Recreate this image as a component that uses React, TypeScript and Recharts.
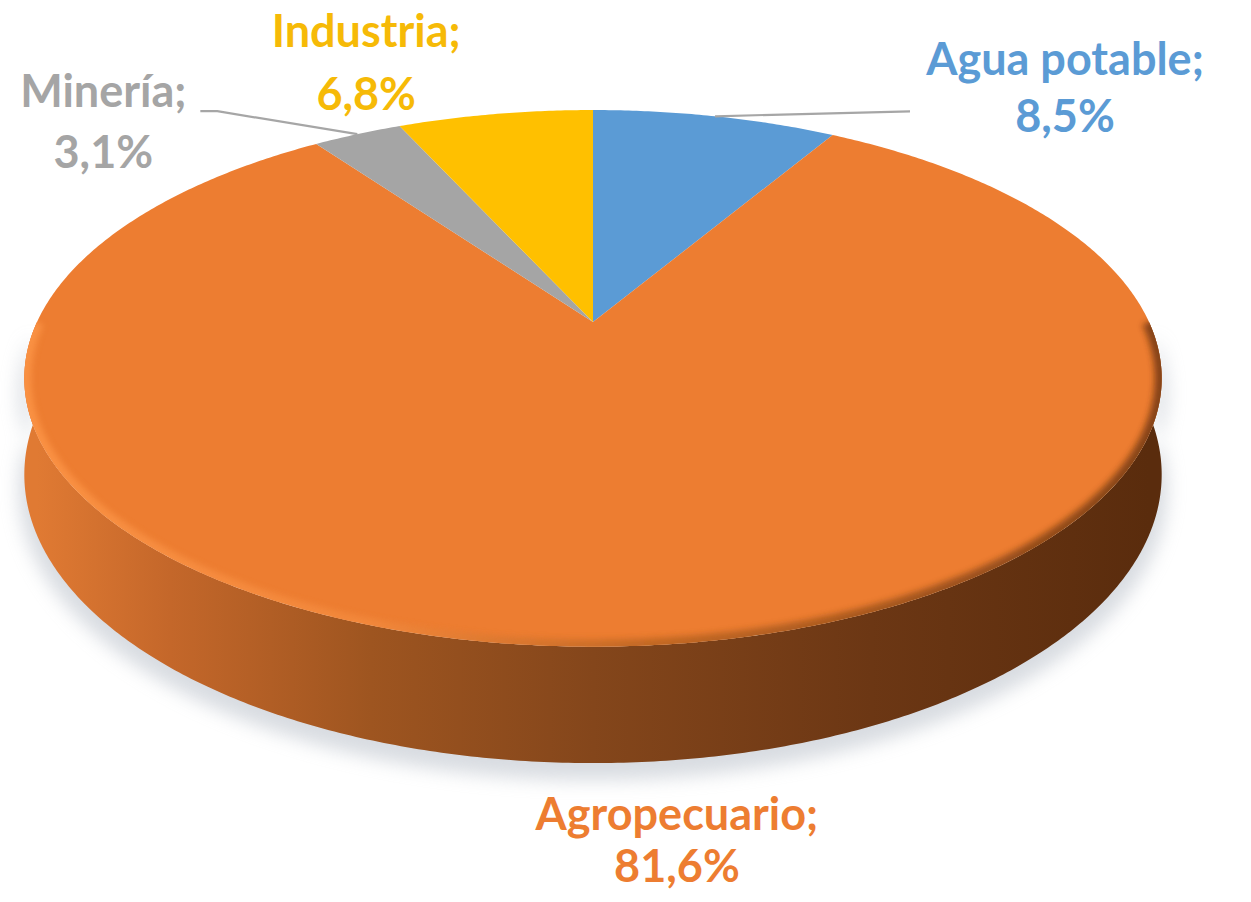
import React from 'react';
import { PieChart, Pie, Cell } from 'recharts';

// ---- data ----
const categories = ['Agua potable', 'Agropecuario', 'Minería', 'Industria'];
const shares = [8.5, 81.6, 3.1, 6.8];
const sliceColors = ['#5B9BD5', '#ED7D31', '#A5A5A5', '#FFC000'];
const labelColors = ['#5B9BD5', '#ED7D31', '#A5A5A5', '#F6BA07'];

const data = categories.map((name, i) => ({ name, value: shares[i] }));

// ---- layout ----
const W = 1251;
const H = 902;
const CX = 593;
const CY = 322;
const R = 556;
const TILT = 0.4613; // vertical squash of the disc
const PERSP = 0.21; // perspective strength
const DEPTH = 92; // thickness of the disc

// label placement relative to the rim point at the slice's mid angle
const labelLayout = [
  { dx: 350, dy: -41, gap: 57, leader: [[195, -5]] },
  { dx: 53, dy: 184, gap: 52, leader: [] },
  { dx: -254, dy: -27, gap: 61, leader: [[-140, -23], [-157, -23]] },
  { dx: -129, dy: -67, gap: 63, leader: [] },
];

function project(cx: number, cy: number, r: number, deg: number, h = 0) {
  const a = (deg * Math.PI) / 180;
  const u = Math.cos(a);
  const v = Math.sin(a);
  const p = 1 / (1 + PERSP * v);
  return [cx + r * u * p, cy - r * TILT * v * p + h * p];
}

function arcPoints(cx: number, cy: number, r: number, a0: number, a1: number, h = 0) {
  const n = Math.max(2, Math.ceil(Math.abs(a1 - a0) / 0.5));
  const pts: number[][] = [];
  for (let i = 0; i <= n; i++) {
    pts.push(project(cx, cy, r, a0 + ((a1 - a0) * i) / n, h));
  }
  return pts;
}

const toPath = (pts: number[][]) =>
  pts.map((p, i) => `${i === 0 ? 'M' : 'L'}${p[0].toFixed(2)},${p[1].toFixed(2)}`).join(' ');

function nearRanges(lo: number, hi: number) {
  const out: number[][] = [];
  for (let k = -2; k <= 2; k++) {
    const a = -180 + 360 * k;
    const b = 0 + 360 * k;
    const s = Math.max(lo, a);
    const e = Math.min(hi, b);
    if (e > s) out.push([s, e]);
  }
  return out;
}

const renderSlice = (props: any) => {
  const { cx, cy, outerRadius, startAngle, endAngle, fill, index } = props;
  const lo = Math.min(startAngle, endAngle);
  const hi = Math.max(startAngle, endAngle);
  const ranges = nearRanges(lo, hi);
  const id = `s${index}`;
  const topPts = [[cx, cy], ...arcPoints(cx, cy, outerRadius, startAngle, endAngle)];
  return (
    <g>
      <defs>
        <linearGradient id={`${id}side`} gradientUnits="userSpaceOnUse" x1={cx - outerRadius} y1={0} x2={cx + outerRadius} y2={0}>
          <stop offset="0" stopColor="#E07A33" />
          <stop offset="0.12" stopColor="#C4672A" />
          <stop offset="0.3" stopColor="#9E5520" />
          <stop offset="0.5" stopColor="#84461B" />
          <stop offset="0.75" stopColor="#6C3714" />
          <stop offset="1" stopColor="#5A2C0D" />
        </linearGradient>
        <linearGradient id={`${id}rim`} gradientUnits="userSpaceOnUse" x1={cx - outerRadius} y1={0} x2={cx + outerRadius} y2={0}>
          <stop offset="0" stopColor="#FF9A4C" />
          <stop offset="0.3" stopColor="#F48C40" />
          <stop offset="0.55" stopColor="#B0601F" />
          <stop offset="1" stopColor="#5A2C0D" />
        </linearGradient>
        <filter id={`${id}blur`} x="-20%" y="-40%" width="140%" height="180%">
          <feGaussianBlur stdDeviation="9" />
        </filter>
        <filter id={`${id}soft`} x="-10%" y="-10%" width="120%" height="120%">
          <feGaussianBlur stdDeviation="3" />
        </filter>
        <clipPath id={`${id}clip`}>
          <path d={toPath(topPts) + ' Z'} />
        </clipPath>
      </defs>
      {ranges.map(([s, e], k) => {
        const top = arcPoints(cx, cy + 14, outerRadius * 1.01, s, e);
        const bottom = arcPoints(cx, cy + 14, outerRadius * 1.01, e, s, DEPTH);
        return (
          <path
            key={`sh${k}`}
            d={toPath([...top, ...bottom]) + ' Z'}
            fill="#B9C0C9"
            opacity={0.55}
            filter={`url(#${id}blur)`}
          />
        );
      })}
      {ranges.map(([s, e], k) => {
        const top = arcPoints(cx, cy, outerRadius, s, e);
        const bottom = arcPoints(cx, cy, outerRadius, e, s, DEPTH);
        return <path key={k} d={toPath([...top, ...bottom]) + ' Z'} fill={`url(#${id}side)`} />;
      })}
      <path d={toPath(topPts) + ' Z'} fill={fill} />
      {ranges.map(([s, e], k) => (
        <g key={`r${k}`} clipPath={`url(#${id}clip)`}>
          <path
            d={toPath(arcPoints(cx, cy, outerRadius, s, e))}
            fill="none"
            stroke={`url(#${id}rim)`}
            strokeWidth={14}
            opacity={0.7}
            filter={`url(#${id}soft)`}
          />
        </g>
      ))}
    </g>
  );
};

const fmt = (v: number) => `${v.toFixed(1).replace('.', ',')}%`;

const renderLabel = (props: any) => {
  const { cx, cy, outerRadius, midAngle, index } = props;
  const [rx, ry] = project(cx, cy, outerRadius, midAngle);
  const lay = labelLayout[index];
  const tx = rx + lay.dx;
  const ty = ry + lay.dy;
  const leader = lay.leader.length
    ? toPath([[rx, ry], ...lay.leader.map(([dx, dy]) => [rx + dx, ry + dy])])
    : null;
  return (
    <g key={`lab${index}`}>
      {leader && <path d={leader} fill="none" stroke="#A6A6A6" strokeWidth={2.2} />}
      <text
        x={tx}
        y={ty}
        textAnchor="middle"
        fontFamily="Lato, 'Open Sans', sans-serif"
        fontWeight={700}
        fontSize={45}
        fill={labelColors[index]}
      >
        <tspan x={tx} y={ty}>{`${categories[index]};`}</tspan>
        <tspan x={tx} y={ty + lay.gap}>{fmt(shares[index])}</tspan>
      </text>
    </g>
  );
};

export default function App() {
  return (
    <div style={{ position: 'absolute', left: 0, top: 0, width: W, height: H, background: '#ffffff' }}>
      <PieChart width={W} height={H} margin={{ top: 0, right: 0, bottom: 0, left: 0 }}>
        <Pie
          data={data}
          dataKey="value"
          nameKey="name"
          cx={CX}
          cy={CY}
          innerRadius={0}
          outerRadius={R}
          startAngle={90}
          endAngle={-270}
          stroke="none"
          isAnimationActive={false}
          shape={renderSlice}
          activeShape={renderSlice}
          inactiveShape={renderSlice}
          label={renderLabel}
          labelLine={false}
        >
          {data.map((d, i) => (
            <Cell key={d.name} fill={sliceColors[i]} />
          ))}
        </Pie>
      </PieChart>
    </div>
  );
}
